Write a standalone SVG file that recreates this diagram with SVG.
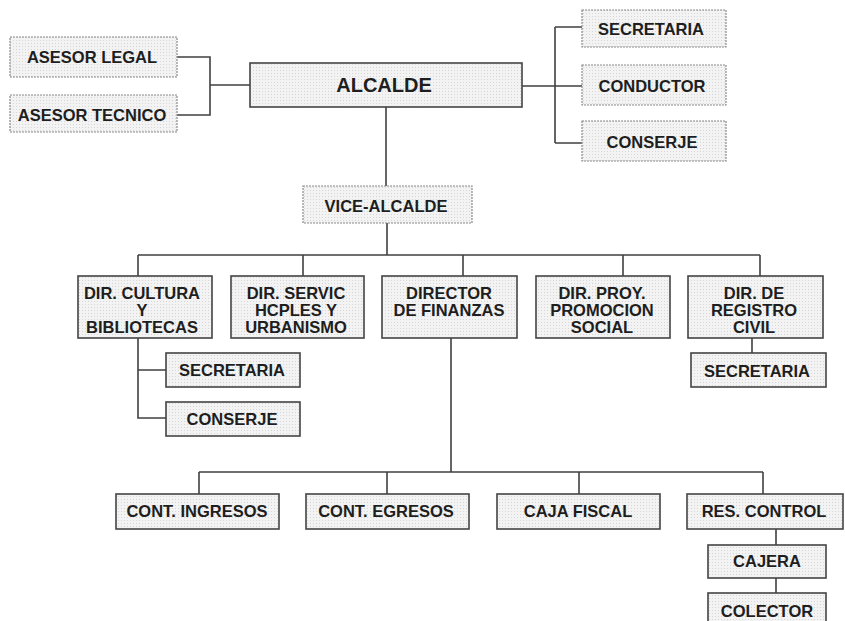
<svg xmlns="http://www.w3.org/2000/svg" width="845" height="621" viewBox="0 0 845 621">
<defs>
<pattern id="dots" width="3" height="3" patternUnits="userSpaceOnUse">
<rect width="3" height="3" fill="#f3f3f3"/>
<rect x="1" y="1" width="1" height="1" fill="#d6d6d6"/>
</pattern>
</defs>
<style>
.box{fill:url(#dots);stroke:#444;stroke-width:1.6}
.lt{fill:url(#dots);stroke:#8a8a8a;stroke-width:1.2;stroke-dasharray:2 1}
.t{font-family:"Liberation Sans",Arial,sans-serif;font-weight:bold;font-size:16.5px;fill:#1e1e1e;text-anchor:middle}
.big{font-size:20px}
.c{fill:none;stroke:#404040;stroke-width:1.6}
</style>
<rect width="845" height="621" fill="#fff"/>
<g id="connectors" class="c">
<path d="M177 57H210V115H177M210 85H250"/>
<path d="M522 86H582M555 27V143M555 27H582M555 143H582"/>
<path d="M386 107V186M387 223V255M138 255H760M138 255V276M303 255V276M463 255V276M623 255V276M760 255V276"/>
<path d="M138 338V418H166M138 370H166"/>
<path d="M752 338V353"/>
<path d="M451 338V472M199 472H763M199 472V494M387 472V494M579 472V494M763 472V494"/>
<path d="M776 529V545M776 578V593"/>
</g>
<g id="asesor-legal"><rect class="lt" x="10" y="37" width="167" height="40"/><text class="t" x="92" y="63">ASESOR LEGAL</text></g>
<g id="asesor-tecnico"><rect class="lt" x="10" y="95" width="167" height="37"/><text class="t" x="92" y="121">ASESOR TECNICO</text></g>
<g id="alcalde"><rect class="box" x="250" y="63" width="272" height="44"/><text class="t big" x="384" y="92">ALCALDE</text></g>
<g id="secretaria-top"><rect class="lt" x="582" y="10" width="144" height="37"/><text class="t" x="651" y="35">SECRETARIA</text></g>
<g id="conductor"><rect class="lt" x="582" y="65" width="144" height="40"/><text class="t" x="652" y="92">CONDUCTOR</text></g>
<g id="conserje-top"><rect class="lt" x="582" y="121" width="144" height="40"/><text class="t" x="652" y="148">CONSERJE</text></g>
<g id="vice-alcalde"><rect class="lt" x="303" y="186" width="169" height="37"/><text class="t" x="386" y="212">VICE-ALCALDE</text></g>
<g id="dir-cultura"><rect class="box" x="78" y="276" width="134" height="62"/><text class="t" x="142" y="299">DIR. CULTURA<tspan x="142" dy="17">Y</tspan><tspan x="142" dy="17">BIBLIOTECAS</tspan></text></g>
<g id="dir-servic"><rect class="box" x="231" y="276" width="133" height="62"/><text class="t" x="296" y="299">DIR. SERVIC<tspan x="296" dy="17">HCPLES Y</tspan><tspan x="296" dy="17">URBANISMO</tspan></text></g>
<g id="dir-finanzas"><rect class="box" x="382" y="276" width="135" height="62"/><text class="t" x="449" y="299">DIRECTOR<tspan x="449" dy="17">DE FINANZAS</tspan></text></g>
<g id="dir-proy"><rect class="box" x="536" y="276" width="134" height="62"/><text class="t" x="602" y="299">DIR. PROY.<tspan x="602" dy="17">PROMOCION</tspan><tspan x="602" dy="17">SOCIAL</tspan></text></g>
<g id="dir-registro"><rect class="box" x="688" y="276" width="135" height="62"/><text class="t" x="754" y="299">DIR.  DE<tspan x="754" dy="17">REGISTRO</tspan><tspan x="754" dy="17">CIVIL</tspan></text></g>
<g id="secretaria-cultura"><rect class="box" x="166" y="353" width="134" height="34"/><text class="t" x="232" y="376">SECRETARIA</text></g>
<g id="conserje-cultura"><rect class="box" x="166" y="402" width="134" height="34"/><text class="t" x="232" y="425">CONSERJE</text></g>
<g id="secretaria-registro"><rect class="box" x="691" y="353" width="135" height="34"/><text class="t" x="757" y="377">SECRETARIA</text></g>
<g id="cont-ingresos"><rect class="box" x="116" y="494" width="163" height="35"/><text class="t" x="197" y="517">CONT. INGRESOS</text></g>
<g id="cont-egresos"><rect class="box" x="306" y="494" width="163" height="35"/><text class="t" x="386" y="517">CONT. EGRESOS</text></g>
<g id="caja-fiscal"><rect class="box" x="497" y="494" width="163" height="35"/><text class="t" x="578" y="517">CAJA FISCAL</text></g>
<g id="res-control"><rect class="box" x="687" y="494" width="156" height="35"/><text class="t" x="764" y="517">RES. CONTROL</text></g>
<g id="cajera"><rect class="box" x="708" y="545" width="118" height="33"/><text class="t" x="767" y="567">CAJERA</text></g>
<g id="colector"><rect class="box" x="708" y="593" width="118" height="36"/><text class="t" x="767" y="617">COLECTOR</text></g>
</svg>
